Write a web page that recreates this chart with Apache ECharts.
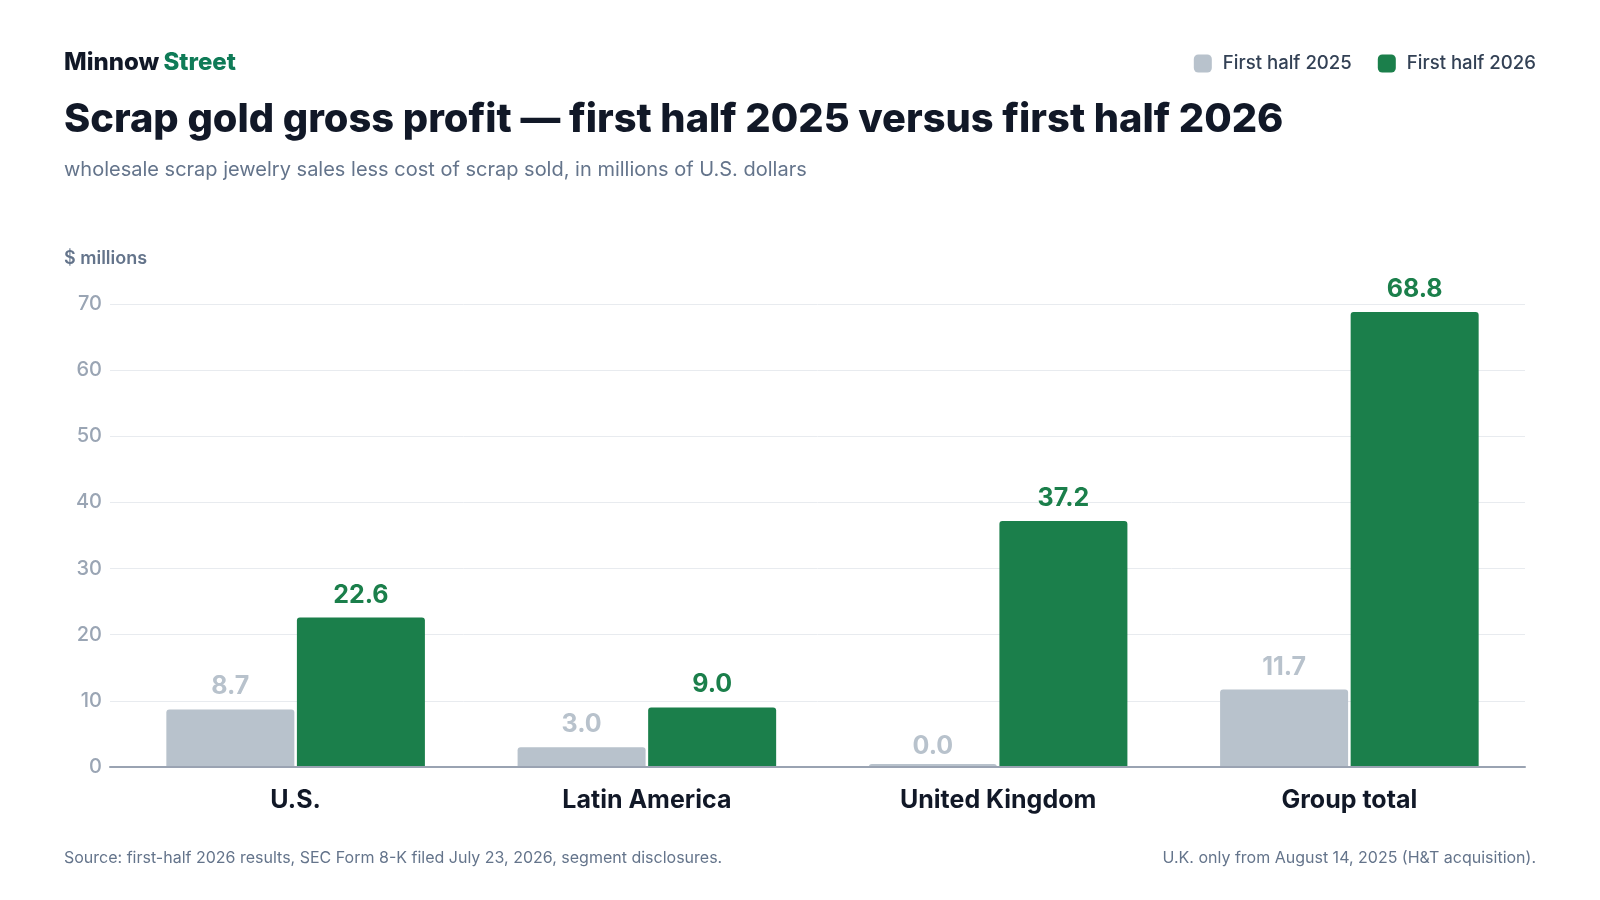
<!DOCTYPE html>
<html>
<head>
<meta charset="utf-8">
<style>
  html, body { margin: 0; padding: 0; background: #fff; }
  #chart { width: 1600px; height: 900px; }
</style>
<script src="https://cdn.jsdelivr.net/npm/echarts@6/dist/echarts.min.js"></script>
</head>
<body>
<div id="chart"></div>
<script>
const categories = ['U.S.', 'Latin America', 'United Kingdom', 'Group total'];
const seriesNames = ['First half 2025', 'First half 2026'];
const values2025 = [8.7, 3.0, 0.0, 11.7];
const values2026 = [22.6, 9.0, 37.2, 68.8];
const yTicks = { min: 0, max: 70, interval: 10 };

const font = 'Inter, "Noto Sans", sans-serif';
const gray = '#b8c2cc';
const green = '#1b7f4b';

const chart = echarts.init(document.getElementById('chart'));

// zero values only get a thin stub, so nudge their label down a little
const toItems = arr => arr.map(v => (v === 0 ? { value: v, label: { offset: [0, 5] } } : v));

// grid 0 holds the bars, grid 1 only draws gridlines / axis line a bit wider to the left
const option = {
  backgroundColor: '#ffffff',
  textStyle: { fontFamily: font },
  animation: false,
  title: [
    {
      left: 64, top: 51, padding: 0,
      text: '{a|Minnow} {b|Street}',
      textStyle: {
        rich: {
          a: { fontSize: 24, fontWeight: 800, color: '#111827', fontFamily: font },
          b: { fontSize: 24, fontWeight: 800, color: '#0f7b57', fontFamily: font }
        }
      }
    },
    {
      left: 64, top: 100, padding: 0,
      text: 'Scrap gold gross profit — first half 2025 versus first half 2026',
      textStyle: { fontSize: 39.8, fontWeight: 800, color: '#111827', fontFamily: font }
    },
    {
      left: 64, top: 160, padding: 0,
      text: 'wholesale scrap jewelry sales less cost of scrap sold, in millions of U.S. dollars',
      textStyle: { fontSize: 20, fontWeight: 400, color: '#64748b', fontFamily: font }
    },
    {
      left: 64, top: 250, padding: 0,
      text: '$ millions',
      textStyle: { fontSize: 18, fontWeight: 600, color: '#64748b', fontFamily: font }
    },
    {
      left: 64, top: 850, padding: 0,
      text: 'Source: first-half 2026 results, SEC Form 8-K filed July 23, 2026, segment disclosures.',
      textStyle: { fontSize: 16, fontWeight: 400, color: '#64748b', fontFamily: font }
    },
    {
      right: 64, top: 850, padding: 0,
      text: 'U.K. only from August 14, 2025 (H&T acquisition).',
      textStyle: { fontSize: 16, fontWeight: 400, color: '#64748b', fontFamily: font }
    }
  ],
  legend: {
    right: 64, top: 54, padding: 0,
    icon: 'roundRect',
    itemWidth: 18, itemHeight: 18,
    itemGap: 26,
    textStyle: { fontSize: 18.6, fontWeight: 500, color: '#334155', fontFamily: font, padding: [0, 0, 0, 6] },
    data: seriesNames
  },
  grid: [
    { left: 120, right: 75, top: 304, bottom: 133 },
    { left: 110, right: 75, top: 304, bottom: 133 }
  ],
  xAxis: [
    {
      type: 'category',
      gridIndex: 0,
      data: categories,
      axisLine: { show: false },
      axisTick: { show: false },
      axisLabel: { fontSize: 25, fontWeight: 700, color: '#111827', margin: 21, fontFamily: font }
    },
    {
      type: 'category',
      gridIndex: 1,
      data: categories,
      z: 5,
      axisLine: { lineStyle: { color: '#9aa3b2', width: 2 } },
      axisTick: { show: false },
      axisLabel: { show: false }
    }
  ],
  yAxis: [
    {
      type: 'value',
      gridIndex: 0,
      min: yTicks.min, max: yTicks.max, interval: yTicks.interval,
      axisLine: { show: false },
      axisTick: { show: false },
      axisLabel: { show: false },
      splitLine: { show: false }
    },
    {
      type: 'value',
      gridIndex: 1,
      min: yTicks.min, max: yTicks.max, interval: yTicks.interval,
      axisLine: { show: false },
      axisTick: { show: false },
      axisLabel: { fontSize: 20, fontWeight: 500, color: '#9aa5b4', margin: 8, fontFamily: font },
      splitLine: { lineStyle: { color: '#e8ebef', width: 1 } }
    }
  ],
  series: [
    {
      name: seriesNames[0],
      type: 'bar',
      data: toItems(values2025),
      barWidth: 128,
      barGap: '2%',
      barMinHeight: 3,
      itemStyle: { color: gray, borderRadius: [3, 3, 0, 0] },
      label: {
        show: true, position: 'top', distance: 10,
        formatter: p => p.value.toFixed(1),
        fontSize: 25, fontWeight: 700, color: gray, fontFamily: font
      }
    },
    {
      name: seriesNames[1],
      type: 'bar',
      data: toItems(values2026),
      barWidth: 128,
      itemStyle: { color: green, borderRadius: [3, 3, 0, 0] },
      label: {
        show: true, position: 'top', distance: 10,
        formatter: p => p.value.toFixed(1),
        fontSize: 25, fontWeight: 700, color: green, fontFamily: font
      }
    }
  ]
};

chart.setOption(option);
</script>
</body>
</html>
